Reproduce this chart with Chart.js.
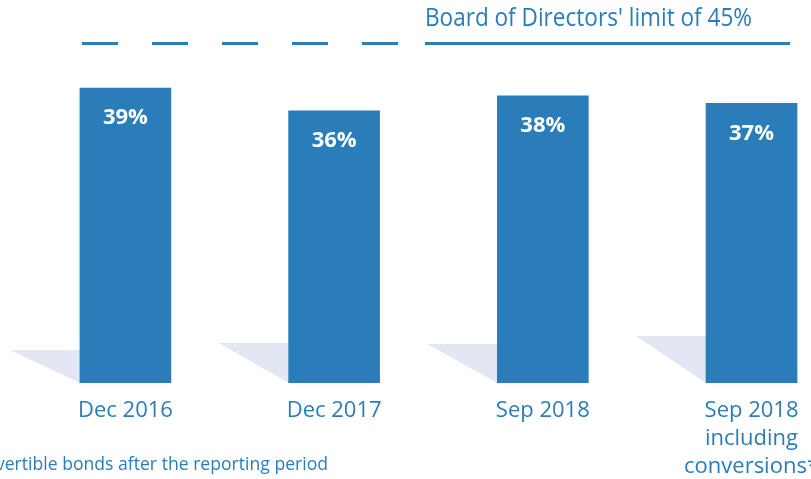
<!DOCTYPE html>
<html>
<head>
<meta charset="utf-8">
<script src="https://cdn.jsdelivr.net/npm/chart.js@4"></script>
<style>
  html, body { margin:0; padding:0; background:#fff; }
  #wrap { width:811px; height:479px; position:relative; }
</style>
</head>
<body>
<div id="wrap"><canvas id="c" width="811" height="479"></canvas></div>
<script>
const categories = ["Dec 2016", "Dec 2017", "Sep 2018", ["Sep 2018", "including", "conversions*"]];
const ratios = [39, 36, 38, 37];
const limitValue = 45;
const limitLabel = "Board of Directors' limit of 45%";
const footnote = "* Including conversions of convertible bonds after the reporting period";

const BLUE = "#2b7db9";
const SHADOW = "#e2e7f3";
const FONT = "'Open Sans', 'Noto Sans', sans-serif";

// decorative shadows to the left of each bar (px)
const shadowPlugin = {
  id: "shadows",
  beforeDatasetsDraw(chart, args, opts){
    const ctx = chart.ctx;
    const meta = chart.getDatasetMeta(0);
    ctx.save();
    ctx.fillStyle = SHADOW;
    meta.data.forEach((bar, i) => {
      const left = bar.x - bar.width / 2;
      const h = opts.heights[i];
      ctx.beginPath();
      ctx.moveTo(left, bar.base);
      ctx.lineTo(left, bar.base - h);
      ctx.lineTo(left - opts.depth, bar.base - h);
      ctx.closePath();
      ctx.fill();
    });
    ctx.restore();
  }
};

const limitPlugin = {
  id: "limit",
  afterDatasetsDraw(chart, args, opts){
    const ctx = chart.ctx;
    const y = Math.round(chart.scales.y.getPixelForValue(limitValue)) + 0.5;
    ctx.save();
    ctx.strokeStyle = BLUE;
    ctx.lineWidth = 3;
    ctx.setLineDash([36, 34]);
    ctx.beginPath();
    ctx.moveTo(opts.dashFrom, y);
    ctx.lineTo(opts.dashTo, y);
    ctx.stroke();
    ctx.setLineDash([]);
    ctx.beginPath();
    ctx.moveTo(opts.solidFrom, y);
    ctx.lineTo(opts.solidTo, y);
    ctx.stroke();

    // label above the solid part, squeezed to the condensed look of the original
    ctx.fillStyle = BLUE;
    ctx.font = "25px " + FONT;
    ctx.textBaseline = "alphabetic";
    const w = ctx.measureText(limitLabel).width;
    const sx = opts.labelWidth / w;
    ctx.translate(opts.solidFrom, y - 18);
    ctx.scale(sx, 1);
    ctx.fillText(limitLabel, 0, 0);
    ctx.restore();

    // value labels inside bars
    const meta = chart.getDatasetMeta(0);
    ctx.save();
    ctx.fillStyle = "#ffffff";
    ctx.font = "bold 22px " + FONT;
    ctx.textAlign = "center";
    ctx.textBaseline = "middle";
    meta.data.forEach((bar, i) => {
      ctx.fillText(ratios[i] + "%", bar.x, bar.y + 30);
    });
    ctx.restore();

    // footnote, cut off at the left edge like the source
    ctx.save();
    ctx.fillStyle = BLUE;
    ctx.font = "17.6px " + FONT;
    ctx.textAlign = "right";
    ctx.textBaseline = "alphabetic";
    ctx.fillText(footnote, 328, 470);
    ctx.restore();
  }
};

new Chart(document.getElementById("c"), {
  type: "bar",
  data: {
    datasets: [{
      data: ratios.map((v, i) => ({ x: i, y: v })),
      backgroundColor: BLUE,
      borderWidth: 0,
      barThickness: 91
    }]
  },
  options: {
    responsive: false,
    animation: false,
    events: [],
    layout: { padding: { top: 5, left: 0, right: 0, bottom: 0 } },
    plugins: {
      legend: { display: false },
      tooltip: { enabled: false },
      shadows: { heights: [33, 40, 39, 47], depth: 70 },
      limit: { dashFrom: 82, dashTo: 400, solidFrom: 425, solidTo: 790, labelWidth: 327 }
    },
    scales: {
      x: {
        type: "linear",
        min: -0.601,
        max: 3.285,
        offset: false,
        grid: { display: false, drawTicks: false },
        border: { display: false },
        afterBuildTicks: axis => { axis.ticks = categories.map((_, i) => ({ value: i })); },
        afterFit: axis => { axis.paddingLeft = 0; axis.paddingRight = 0; axis.height = 96; },
        ticks: {
          autoSkip: false,
          maxRotation: 0,
          padding: 14,
          color: BLUE,
          font: { family: FONT, size: 22, lineHeight: 1.26 },
          callback: v => categories[v]
        }
      },
      y: { display: false, min: 0, max: 50 }
    }
  },
  plugins: [shadowPlugin, limitPlugin]
});
</script>
</body>
</html>
